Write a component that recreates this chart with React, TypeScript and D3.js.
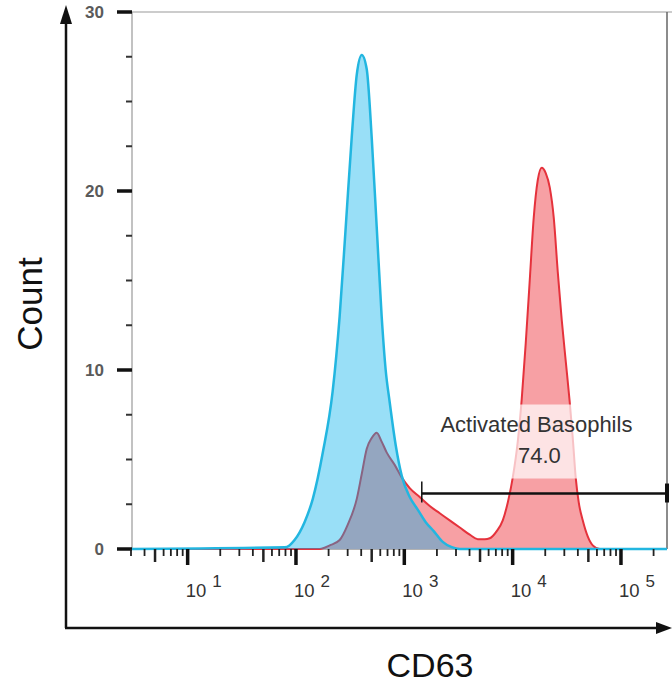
import React from 'react';
import * as d3 from 'd3';

// CD63 intensity vs. event count
const controlHist: [number, number][] = [
  [3, 0], [79, 0.1], [87, 0.2], [97, 0.5], [120, 1.5], [143, 2.8], [177, 5.4],
  [218, 8.8], [253, 13], [288, 18], [327, 23], [364, 26.5], [405, 27.6],
  [450, 26.8], [500, 23], [556, 18], [618, 13], [673, 10], [733, 8.2],
  [833, 5.8], [946, 4.1], [1122, 2.9], [1330, 2.2], [1577, 1.5], [1868, 1.0],
  [2263, 0.4], [2741, 0.1], [3252, 0], [266000, 0],
];

const stimHist: [number, number][] = [
  [3, 0], [166, 0], [205, 0.2], [253, 0.5], [300, 1.35], [364, 2.8], [405, 4.2],
  [450, 5.6], [500, 6.2], [556, 6.5], [618, 6.0], [687, 5.4], [815, 4.7],
  [946, 4.0], [1122, 3.4], [1387, 2.9], [1717, 2.4], [2124, 2.0], [2625, 1.6],
  [3252, 1.2], [4018, 0.8], [4764, 0.55], [5524, 0.55], [6146, 0.6],
  [7130, 1.0], [8107, 1.6], [9020, 2.6], [10030, 4.0], [11150, 6.0],
  [12140, 8.4], [13210, 11.5], [14380, 15], [15650, 18.5], [17050, 20.6],
  [18560, 21.3], [20210, 21], [22010, 20.2], [23970, 18.5], [26080, 15.5],
  [28390, 12.8], [30910, 10.5], [33650, 8.2], [35890, 6.2], [38200, 4.0],
  [40750, 2.6], [44360, 1.6], [49320, 0.7], [54890, 0.2], [63700, 0], [266000, 0],
];

const yTicks = [0, 10, 20, 30];
const xDecades = [1, 2, 3, 4, 5];
const gateRange: [number, number] = [1450, 266000];
const gateCount = 3.1;
const gateName = 'Activated Basophils';
const gateValue = '74.0';

const font = '"Liberation Sans", Arial, Helvetica, sans-serif';

export default function App() {
  const W = 672;
  const H = 684;
  const plot = { left: 132, right: 667, top: 12, bottom: 549 };

  const x = d3.scaleLog().domain([3, 266000]).range([131, 667]);
  const y = d3.scaleLinear().domain([0, 30]).range([plot.bottom, plot.top]);

  const area = d3.area<[number, number]>()
    .x(d => x(d[0]))
    .y0(y(0))
    .y1(d => y(d[1]))
    .curve(d3.curveMonotoneX);
  const line = d3.line<[number, number]>()
    .x(d => x(d[0]))
    .y(d => y(d[1]))
    .curve(d3.curveMonotoneX);

  // minor ticks on the log axis
  const xMinor: { v: number; k: number }[] = [];
  for (let e = 0; e <= 5; e++) {
    for (let k = 2; k <= 9; k++) {
      const v = k * Math.pow(10, e);
      if (v >= 3 && v <= 266000) xMinor.push({ v, k });
    }
  }
  const yMinor = d3.range(0, 30.01, 2.5).filter(v => v % 10 !== 0);

  const gx0 = x(gateRange[0]);
  const gx1 = x(gateRange[1]);
  const gy = y(gateCount);
  const labelX = (gx0 + gx1) / 2 - 8;

  return (
    <div style={{ position: 'absolute', left: 0, top: 0 }}>
      <svg width={W} height={H} style={{ display: 'block', background: '#fff' }}>
        {/* plot frame */}
        <line x1={plot.left} x2={W} y1={plot.top} y2={plot.top} stroke="#999" strokeWidth={1.2} />
        <line x1={plot.left} x2={plot.left} y1={plot.top} y2={plot.bottom} stroke="#999" strokeWidth={1.2} />
        <line x1={plot.right} x2={plot.right} y1={plot.top} y2={plot.bottom} stroke="#666" strokeWidth={1.5} />
        <line x1={plot.left} x2={plot.right} y1={plot.bottom} y2={plot.bottom} stroke="#666" strokeWidth={1} />

        {/* histograms */}
        <path d={area(stimHist) || ''} fill="#f7a0a4" />
        <path d={line(stimHist) || ''} fill="none" stroke="#e5323c" strokeWidth={2} />
        <path d={area(controlHist) || ''} fill="rgba(0,175,235,0.4)" />
        <path d={line(controlHist) || ''} fill="none" stroke="#22b6e0" strokeWidth={2.5} />

        {/* gate */}
        <rect x={428} y={gy - 89} width={220} height={74} fill="#fff" opacity={0.7} />
        <text x={labelX} y={gy - 62} textAnchor="middle" fontFamily={font} fontSize={22} fill="#333">{gateName}</text>
        <text x={labelX + 3} y={gy - 31} textAnchor="middle" fontFamily={font} fontSize={22} fill="#333">{gateValue}</text>
        <line x1={gx0} x2={gx1} y1={gy} y2={gy} stroke="#111" strokeWidth={2.5} />
        <line x1={gx0} x2={gx0} y1={gy - 12} y2={gy + 9} stroke="#111" strokeWidth={1.5} />
        <line x1={gx1} x2={gx1} y1={gy - 10} y2={gy + 9} stroke="#111" strokeWidth={4} />

        {/* y ticks */}
        {yTicks.map(t => (
          <g key={'y' + t}>
            <line x1={117} x2={plot.left} y1={y(t)} y2={y(t)} stroke="#111" strokeWidth={3.5} />
            <text x={104} y={y(t) + 6} textAnchor="end" fontFamily={font} fontWeight="bold" fontSize={17} fill="#5a5a5a">{t}</text>
          </g>
        ))}
        {yMinor.map(t => (
          <line key={'ym' + t} x1={126} x2={plot.left} y1={y(t)} y2={y(t)} stroke="#333" strokeWidth={2} />
        ))}

        {/* x ticks */}
        {xMinor.map(({ v, k }) => (
          <line key={'xm' + v} x1={x(v)} x2={x(v)} y1={plot.bottom} y2={plot.bottom + (k === 5 ? 13 : 7)}
            stroke="#222" strokeWidth={k === 5 ? 2.5 : 1.8} />
        ))}
        {xDecades.map(e => (
          <g key={'x' + e}>
            <line x1={x(Math.pow(10, e))} x2={x(Math.pow(10, e))} y1={plot.bottom} y2={plot.bottom + 16} stroke="#111" strokeWidth={3.5} />
            <text x={x(Math.pow(10, e)) - 2} y={597} fontFamily={font} fontSize={18.5} fill="#333">
              10<tspan dx={6} dy={-10} fontSize={17}>{e}</tspan>
            </text>
          </g>
        ))}

        {/* outer axis arrows */}
        <line x1={66} x2={66} y1={628} y2={18} stroke="#111" strokeWidth={2.5} />
        <path d="M66,5 L60,24 L72,24 Z" fill="#111" />
        <line x1={65} x2={660} y1={628} y2={628} stroke="#111" strokeWidth={2.5} />
        <path d="M672,628 L656,622 L656,634 Z" fill="#111" />

        {/* axis titles */}
        <text transform="translate(42,304) rotate(-90)" textAnchor="middle" fontFamily={font} fontSize={35} fill="#111">Count</text>
        <text x={430} y={677} textAnchor="middle" fontFamily={font} fontSize={34} fill="#111">CD63</text>
      </svg>
    </div>
  );
}
